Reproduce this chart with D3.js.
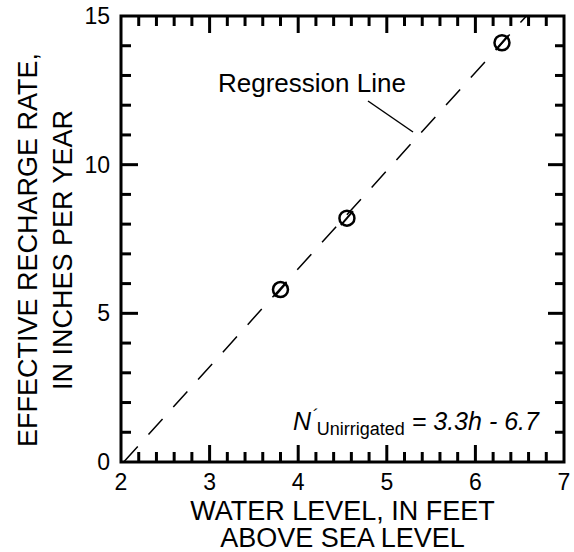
<!DOCTYPE html>
<html>
<head>
<meta charset="UTF-8">
<script src="https://d3js.org/d3.v7.min.js"></script>
<style>
  body { margin: 0; background: #fff; }
  svg { font-family: "Liberation Sans", Arial, sans-serif; }
</style>
</head>
<body>
<div id="chart"></div>
<script>
// data
const waterLevel = [3.8, 4.55, 6.3];
const rechargeRate = [5.8, 8.2, 14.1];
const xTicks = [2, 3, 4, 5, 6, 7];
const yTicks = [0, 5, 10, 15];
const regSlope = 3.3;
const regIntercept = -6.7;

const width = 574, height = 552;
const margin = { left: 121, right: 10, top: 16, bottom: 90 };

const svg = d3.select("#chart").append("svg")
    .attr("width", width)
    .attr("height", height);

const x = d3.scaleLinear().domain([2, 7]).range([margin.left, width - margin.right]);
const y = d3.scaleLinear().domain([0, 15]).range([height - margin.bottom, margin.top]);

const xMinor = d3.range(1, 25).map(i => 2 + i * 0.2).filter((v, i) => (i + 1) % 5 !== 0);
const yMinor = d3.range(1, 15).filter(v => v % 5 !== 0);
const xMajorIn = xTicks.slice(1, -1);
const yMajorIn = yTicks.slice(1, -1);

// frame
svg.append("rect")
    .attr("x", x(2)).attr("y", y(15))
    .attr("width", x(7) - x(2)).attr("height", y(0) - y(15))
    .attr("fill", "none").attr("stroke", "#000").attr("stroke-width", 3);

// inward ticks on all four sides
const tickSegs = [];
xMinor.forEach(v => {
  tickSegs.push([x(v), y(0), x(v), y(0) - 10], [x(v), y(15), x(v), y(15) + 10]);
});
xMajorIn.forEach(v => {
  tickSegs.push([x(v), y(0), x(v), y(0) - 17], [x(v), y(15), x(v), y(15) + 17]);
});
yMinor.forEach(v => {
  tickSegs.push([x(2), y(v), x(2) + 10, y(v)], [x(7), y(v), x(7) - 9, y(v)]);
});
yMajorIn.forEach(v => {
  tickSegs.push([x(2), y(v), x(2) + 17, y(v)], [x(7), y(v), x(7) - 16, y(v)]);
});
svg.append("g").selectAll("line").data(tickSegs).join("line")
    .attr("x1", d => d[0]).attr("y1", d => d[1])
    .attr("x2", d => d[2]).attr("y2", d => d[3])
    .attr("stroke", "#000").attr("stroke-width", 3);

// tick labels
svg.append("g").selectAll("text").data(xTicks).join("text")
    .attr("x", d => x(d)).attr("y", y(0) + 28)
    .attr("text-anchor", "middle").attr("font-size", 23)
    .text(d => d);
svg.append("g").selectAll("text").data(yTicks).join("text")
    .attr("x", x(2) - 11).attr("y", d => y(d) + 8)
    .attr("text-anchor", "end").attr("font-size", 23)
    .text(d => d);

// axis titles
const cx = (x(2) + x(7)) / 2;
svg.append("text").attr("x", cx).attr("y", 520)
    .attr("text-anchor", "middle").attr("font-size", 27)
    .text("WATER LEVEL, IN FEET");
svg.append("text").attr("x", cx).attr("y", 547)
    .attr("text-anchor", "middle").attr("font-size", 27)
    .text("ABOVE SEA LEVEL");
const yt = svg.append("text")
    .attr("transform", "translate(37,250) rotate(-90)")
    .attr("text-anchor", "middle").attr("font-size", 27);
yt.append("tspan").attr("x", 0).attr("y", 0).text("EFFECTIVE RECHARGE RATE,");
yt.append("tspan").attr("x", 0).attr("y", 35).text("IN INCHES PER YEAR");

// regression line
const h0 = (0 - regIntercept) / regSlope;
const h1 = (15 - regIntercept) / regSlope;
svg.append("line")
    .attr("x1", x(h0)).attr("y1", y(0))
    .attr("x2", x(h1)).attr("y2", y(15))
    .attr("stroke", "#000").attr("stroke-width", 1.5)
    .attr("stroke-dasharray", "21,16");

// leader + label
svg.append("line")
    .attr("x1", 368).attr("y1", 101).attr("x2", 413).attr("y2", 132)
    .attr("stroke", "#000").attr("stroke-width", 1.5);
svg.append("text").attr("x", 218).attr("y", 92)
    .attr("font-size", 26).text("Regression Line");

// points: circle with slash
const pts = svg.append("g").selectAll("g").data(waterLevel).join("g")
    .attr("transform", (d, i) => `translate(${x(d)},${y(rechargeRate[i])})`);
pts.append("circle").attr("r", 7.5)
    .attr("fill", "none").attr("stroke", "#000").attr("stroke-width", 2.5);
pts.append("line")
    .attr("x1", -6).attr("y1", 7).attr("x2", 6).attr("y2", -7)
    .attr("stroke", "#000").attr("stroke-width", 2);

// equation
const eq = svg.append("text").attr("x", 293).attr("y", 430)
    .attr("font-size", 25).attr("font-style", "italic");
eq.append("tspan").text("N");
eq.append("tspan").attr("dy", -9).attr("dx", 1).attr("font-size", 17).text("\u00B4");
eq.append("tspan").attr("dy", 14).attr("dx", -1).attr("font-style", "normal")
    .attr("font-size", 18).text("Unirrigated");
eq.append("tspan").attr("dy", -5).text(" = 3.3h - 6.7");
</script>
</body>
</html>
